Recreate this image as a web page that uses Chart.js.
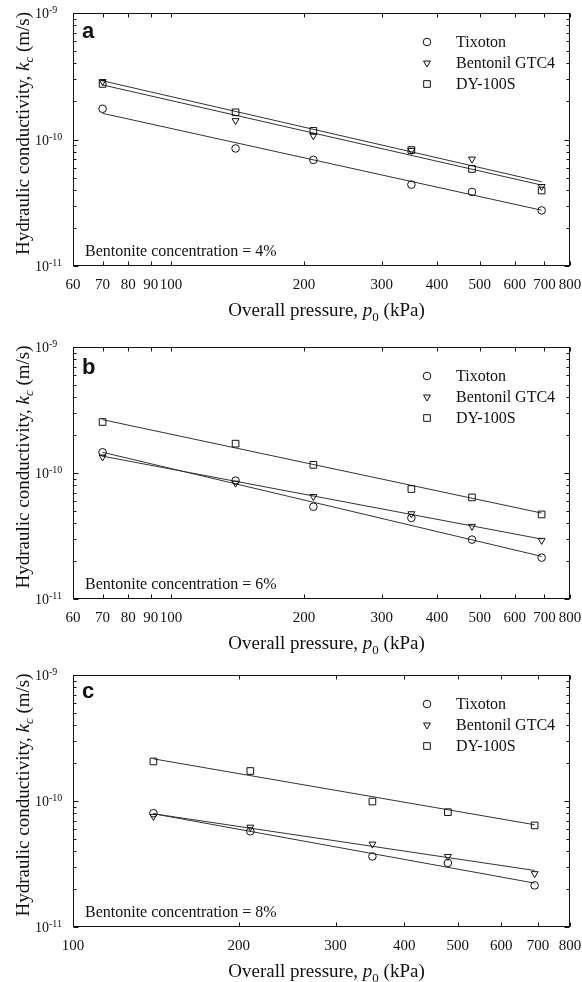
<!DOCTYPE html>
<html><head><meta charset="utf-8">
<script src="https://cdn.jsdelivr.net/npm/chart.js@4.4.1/dist/chart.umd.min.js"></script>
<style>
html,body{margin:0;padding:0;background:#fff;width:582px;height:982px;overflow:hidden}
canvas{position:absolute;left:0}
</style></head><body>
<canvas id="ca" width="582" height="330" style="top:0;width:582px;height:330px"></canvas>
<canvas id="cb" width="582" height="330" style="top:330px;width:582px;height:330px"></canvas>
<canvas id="cc" width="582" height="322" style="top:660px;width:582px;height:322px"></canvas>
<script>
// ---- data ----
const seriesNames = ['Tixoton', 'Bentonil GTC4', 'DY-100S'];
const pressureAB = [70, 140, 210, 350, 480, 690];
const pressureC = [140, 210, 350, 480, 690];
const fitRangeAB = [70, 690];
const fitRangeC = [140, 690];
const xTicksAB = [60, 70, 80, 90, 100, 200, 300, 400, 500, 600, 700, 800];
const xTicksC = [100, 200, 300, 400, 500, 600, 700, 800];
const yTickExps = [-9, -10, -11];
const concentrations = ['4%', '6%', '8%'];
const panelLetters = ['a', 'b', 'c'];

// panel a (4 %)
const tixA = [1.75e-10, 8.5e-11, 6.9e-11, 4.4e-11, 3.85e-11, 2.75e-11];
const gtcA = [2.87e-10, 1.41e-10, 1.07e-10, 8.2e-11, 7.0e-11, 4.25e-11];
const dyA  = [2.75e-10, 1.64e-10, 1.17e-10, 8.25e-11, 5.85e-11, 3.95e-11];
const fitTixA = [1.61e-10, 2.76e-11];
const fitGtcA = [2.91e-10, 4.63e-11];
const fitDyA  = [2.70e-10, 4.36e-11];

// panel b (6 %)
const tixB = [1.46e-10, 8.7e-11, 5.4e-11, 4.4e-11, 2.96e-11, 2.13e-11];
const gtcB = [1.34e-10, 8.3e-11, 6.5e-11, 4.75e-11, 3.77e-11, 2.92e-11];
const dyB  = [2.54e-10, 1.71e-10, 1.16e-10, 7.46e-11, 6.4e-11, 4.69e-11];
const fitTixB = [1.46e-10, 2.18e-11];
const fitGtcB = [1.36e-10, 2.99e-11];
const fitDyB  = [2.65e-10, 4.81e-11];

// panel c (8 %)
const tixC = [8.0e-11, 5.75e-11, 3.63e-11, 3.22e-11, 2.14e-11];
const gtcC = [7.55e-11, 6.2e-11, 4.55e-11, 3.63e-11, 2.65e-11];
const dyC  = [2.06e-10, 1.73e-10, 9.9e-11, 8.15e-11, 6.4e-11];
const fitTixC = [7.92e-11, 2.23e-11];
const fitGtcC = [7.92e-11, 2.81e-11];
const fitDyC  = [2.16e-10, 6.48e-11];

// ---- styling ----
const SERIF = '"Liberation Serif", "Times New Roman", serif';
const markerStyles = [
  {pointStyle: 'circle', radius: 3.8, rotation: 0},
  {pointStyle: 'triangle', radius: 4, rotation: 180},
  {pointStyle: 'rect', radius: 4.7, rotation: 0}
];

function pts(xs, ys) { return xs.map((x, i) => ({x: x, y: ys[i]})); }

function drawRich(ctx, segs, x, y, align) {
  let total = 0;
  segs.forEach(s => { ctx.font = s.font; s.w = ctx.measureText(s.text).width; total += s.w; });
  let cx = align === 'center' ? x - total / 2 : (align === 'right' ? x - total : x);
  ctx.textAlign = 'left';
  ctx.textBaseline = 'alphabetic';
  segs.forEach(s => { ctx.font = s.font; ctx.fillText(s.text, cx, y + (s.dy || 0)); cx += s.w; });
}

const framePlugin = {
  id: 'frame',
  afterDraw(chart, args, opts) {
    const ctx = chart.ctx;
    const a = chart.chartArea;
    const xs = chart.scales.x, ys = chart.scales.y;
    ctx.save();
    ctx.strokeStyle = '#111';
    ctx.fillStyle = '#111';
    ctx.lineWidth = 1;
    const L = Math.round(a.left) + 0.5, R = Math.round(a.right) - 0.5;
    const T = Math.round(a.top) + 0.5, B = Math.round(a.bottom) - 0.5;
    ctx.strokeRect(L, T, R - L, B - T);
    // y ticks (major + minor), inward on both sides
    ctx.beginPath();
    for (let e = -11; e <= -9; e++) {
      for (let m = 1; m <= 9; m++) {
        if (e === -9 && m > 1) break;
        const v = m * Math.pow(10, e);
        const py = Math.round(ys.getPixelForValue(v)) + 0.5;
        const len = m === 1 ? 5 : 3;
        ctx.moveTo(L, py); ctx.lineTo(L + len, py);
        ctx.moveTo(R, py); ctx.lineTo(R - len, py);
      }
    }
    // x ticks inward top & bottom
    opts.xTicks.forEach(v => {
      const px = Math.round(xs.getPixelForValue(v)) + 0.5;
      ctx.moveTo(px, B); ctx.lineTo(px, B - 4);
      ctx.moveTo(px, T); ctx.lineTo(px, T + 4);
    });
    ctx.stroke();

    // x tick labels
    ctx.font = '15px ' + SERIF;
    ctx.textAlign = 'center';
    ctx.textBaseline = 'alphabetic';
    opts.xTicks.forEach(v => {
      const px = xs.getPixelForValue(v);
      ctx.fillText(String(v), px, a.bottom + 22.5);
    });
    // y tick labels 10^e
    yTickExps.forEach(e => {
      const py = ys.getPixelForValue(Math.pow(10, e));
      drawRich(ctx, [
        {text: '10', font: '14px ' + SERIF, dy: 5},
        {text: '-' + String(-e), font: '10px ' + SERIF, dy: 0}
      ], 35, py, 'left');
    });
    // x title
    drawRich(ctx, [
      {text: 'Overall pressure, ', font: '19px ' + SERIF},
      {text: 'p', font: 'italic 19px ' + SERIF},
      {text: '0', font: '13px ' + SERIF, dy: 5},
      {text: ' (kPa)', font: '19px ' + SERIF}
    ], (a.left + a.right) / 2 + 5, a.bottom + 50, 'center');
    // y title (rotated)
    ctx.save();
    ctx.translate(29, (a.top + a.bottom) / 2 - 6);
    ctx.rotate(-Math.PI / 2);
    drawRich(ctx, [
      {text: 'Hydraulic conductivity, ', font: '19px ' + SERIF},
      {text: 'k', font: 'italic 19px ' + SERIF},
      {text: 'c', font: 'italic 13px ' + SERIF, dy: 4},
      {text: ' (m/s)', font: '19px ' + SERIF}
    ], 0, 0, 'center');
    ctx.restore();
    // panel letter
    ctx.font = 'bold 22px "Liberation Sans", Arial, sans-serif';
    ctx.textAlign = 'left';
    ctx.fillText(opts.letter, a.left + 9, a.top + opts.letterDy);
    // concentration note
    ctx.font = '16px ' + SERIF;
    ctx.fillText('Bentonite concentration = ' + opts.conc, a.left + 12, a.bottom - 10);
    // legend
    const H = Chart.helpers;
    seriesNames.forEach((name, i) => {
      const ly = a.top + 29 + i * 21;
      const st = markerStyles[i];
      ctx.strokeStyle = '#111';
      ctx.lineWidth = 1;
      ctx.fillStyle = 'rgba(0,0,0,0)';
      H.drawPoint(ctx, {pointStyle: st.pointStyle, radius: st.radius, rotation: st.rotation, borderWidth: 1}, 427, ly);
      ctx.fillStyle = '#111';
      ctx.font = '16px ' + SERIF;
      ctx.textBaseline = 'middle';
      ctx.fillText(name, 456, ly + 1);
      ctx.textBaseline = 'alphabetic';
    });
    ctx.restore();
  }
};

function makePanel(id, xs, ysList, fitXs, fitList, xMin, xMax, xTicks, pad, letter, letterDy, conc) {
  const datasets = [];
  ysList.forEach((ys, i) => {
    const st = markerStyles[i];
    datasets.push({
      label: seriesNames[i],
      data: pts(xs, ys),
      showLine: false,
      pointStyle: st.pointStyle,
      pointRotation: st.rotation,
      pointRadius: st.radius,
      pointBorderWidth: 1,
      borderColor: '#111',
      backgroundColor: 'rgba(0,0,0,0)',
      pointBackgroundColor: 'rgba(0,0,0,0)'
    });
  });
  fitList.forEach((f, i) => {
    datasets.push({
      label: seriesNames[i] + ' fit',
      data: pts(fitXs, f),
      showLine: true,
      pointRadius: 0,
      borderColor: '#333',
      borderWidth: 1,
      fill: false
    });
  });
  return new Chart(document.getElementById(id), {
    type: 'scatter',
    data: {datasets: datasets},
    options: {
      responsive: false,
      animation: false,
      devicePixelRatio: 1,
      layout: {padding: pad},
      scales: {
        x: {type: 'logarithmic', min: xMin, max: xMax, display: false},
        y: {type: 'logarithmic', min: 1e-11, max: 1e-9, display: false}
      },
      plugins: {
        legend: {display: false},
        tooltip: {enabled: false},
        frame: {xTicks: xTicks, letter: letter, letterDy: letterDy, conc: conc}
      }
    },
    plugins: [framePlugin]
  });
}

makePanel('ca', pressureAB, [tixA, gtcA, dyA], fitRangeAB, [fitTixA, fitGtcA, fitDyA],
  60, 800, xTicksAB, {left: 73, right: 12, top: 13, bottom: 64}, panelLetters[0], 25, concentrations[0]);
makePanel('cb', pressureAB, [tixB, gtcB, dyB], fitRangeAB, [fitTixB, fitGtcB, fitDyB],
  60, 800, xTicksAB, {left: 73, right: 12, top: 17, bottom: 61}, panelLetters[1], 27, concentrations[1]);
makePanel('cc', pressureC, [tixC, gtcC, dyC], fitRangeC, [fitTixC, fitGtcC, fitDyC],
  100, 800, xTicksC, {left: 73, right: 12, top: 15, bottom: 55}, panelLetters[2], 23, concentrations[2]);
</script>
</body></html>
